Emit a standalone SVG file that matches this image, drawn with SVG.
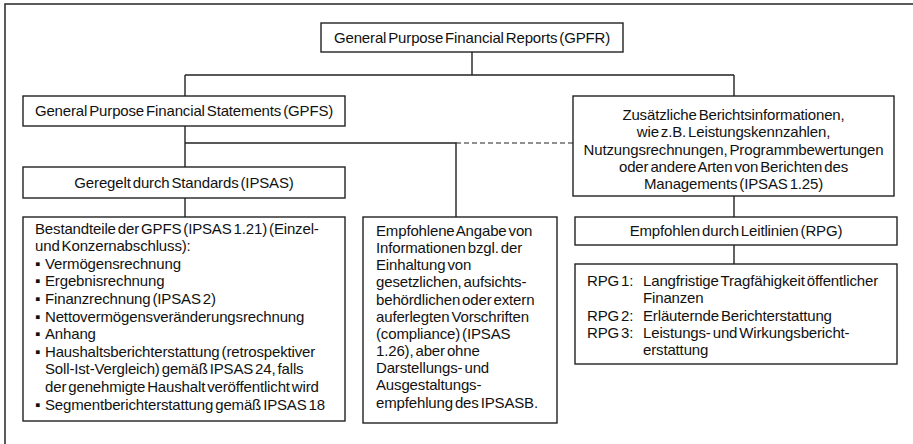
<svg xmlns="http://www.w3.org/2000/svg" width="913" height="444" viewBox="0 0 913 444">
<style>
.bg{fill:#fff}
.frame{fill:none;stroke:#333;stroke-width:1.6}
.box{fill:#fff;stroke:#222;stroke-width:1.4}
.ln{fill:none;stroke:#222;stroke-width:1.4}
.dash{fill:none;stroke:#222;stroke-width:1.2;stroke-dasharray:5 3}
text{font-family:"Liberation Sans",Arial,sans-serif;font-size:15px;fill:#111;letter-spacing:-0.15px;word-spacing:-2px}
.c{text-anchor:middle}
</style>
<rect class="bg" x="0" y="0" width="913" height="444"/>
<rect class="frame" x="5" y="4" width="920" height="460"/>
<g id="connectors">
<path class="ln" d="M472,52V75M185,75H734M185,75V96M734,75V96"/>
<path class="ln" d="M185,126V167M185,143H456V217M185,198V217"/>
<path class="dash" d="M456,143H573"/>
<path class="ln" d="M734,196V217M734,245V264"/>
</g>
<g id="gpfr">
<rect class="box" x="321" y="23" width="302" height="29"/>
<text class="c" x="472" y="42.5">General Purpose Financial Reports (GPFR)</text>
</g>
<g id="gpfs">
<rect class="box" x="23" y="96" width="322" height="30"/>
<text class="c" x="184" y="116">General Purpose Financial Statements (GPFS)</text>
</g>
<g id="ipsas">
<rect class="box" x="23" y="167" width="322" height="31"/>
<text class="c" x="184" y="188">Geregelt durch Standards (IPSAS)</text>
</g>
<g id="bestandteile">
<rect class="box" x="23" y="217" width="322" height="204"/>
<text x="35" y="233.5">Bestandteile der GPFS (IPSAS 1.21) (Einzel-</text>
<text x="35" y="251.1">und Konzernabschluss):</text>
<text x="35" y="268.7">▪</text><text x="45" y="268.7">Vermögensrechnung</text>
<text x="35" y="286.3">▪</text><text x="45" y="286.3">Ergebnisrechnung</text>
<text x="35" y="303.9">▪</text><text x="45" y="303.9">Finanzrechnung (IPSAS 2)</text>
<text x="35" y="321.5">▪</text><text x="45" y="321.5">Nettovermögensveränderungsrechnung</text>
<text x="35" y="339.1">▪</text><text x="45" y="339.1">Anhang</text>
<text x="35" y="356.7">▪</text><text x="45" y="356.7">Haushaltsberichterstattung (retrospektiver</text>
<text x="45" y="374.3">Soll-Ist-Vergleich) gemäß IPSAS 24, falls</text>
<text x="45" y="391.9">der genehmigte Haushalt veröffentlicht wird</text>
<text x="35" y="409.5">▪</text><text x="45" y="409.5">Segmentberichterstattung gemäß IPSAS 18</text>
</g>
<g id="compliance">
<rect class="box" x="363" y="217" width="194" height="206"/>
<text x="376" y="236">Empfohlene Angabe von</text>
<text x="376" y="253.15">Informationen bzgl. der</text>
<text x="376" y="270.3">Einhaltung von</text>
<text x="376" y="287.45">gesetzlichen, aufsichts-</text>
<text x="376" y="304.6">behördlichen oder extern</text>
<text x="376" y="321.75">auferlegten Vorschriften</text>
<text x="376" y="338.9">(compliance) (IPSAS</text>
<text x="376" y="356.05">1.26), aber ohne</text>
<text x="376" y="373.2">Darstellungs- und</text>
<text x="376" y="390.35">Ausgestaltungs-</text>
<text x="376" y="407.5">empfehlung des IPSASB.</text>
</g>
<g id="zusaetzlich">
<rect class="box" x="573" y="96" width="321" height="100"/>
<text class="c" x="733.5" y="120">Zusätzliche Berichtsinformationen,</text>
<text class="c" x="733.5" y="137.3">wie z.B. Leistungskennzahlen,</text>
<text class="c" x="733.5" y="154.6">Nutzungsrechnungen, Programmbewertungen</text>
<text class="c" x="733.5" y="171.9">oder andere Arten von Berichten des</text>
<text class="c" x="733.5" y="189.2">Managements (IPSAS 1.25)</text>
</g>
<g id="leitlinien">
<rect class="box" x="575" y="217" width="322" height="28"/>
<text class="c" x="736" y="235.5">Empfohlen durch Leitlinien (RPG)</text>
</g>
<g id="rpg">
<rect class="box" x="575" y="264" width="322" height="100"/>
<text x="587" y="286">RPG 1:</text><text x="643" y="286">Langfristige Tragfähigkeit öffentlicher</text>
<text x="643" y="303.3">Finanzen</text>
<text x="587" y="320.6">RPG 2:</text><text x="643" y="320.6">Erläuternde Berichterstattung</text>
<text x="587" y="337.9">RPG 3:</text><text x="643" y="337.9">Leistungs- und Wirkungsbericht-</text>
<text x="643" y="355.2">erstattung</text>
</g>
</svg>
